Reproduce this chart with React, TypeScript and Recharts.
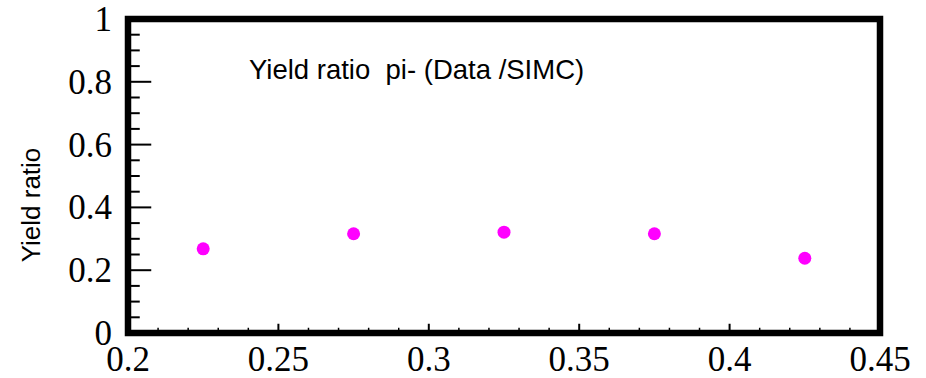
import React from 'react';
import { ScatterChart, Scatter, XAxis, YAxis, ReferenceArea } from 'recharts';

// Data
const xValues = [0.225, 0.275, 0.325, 0.375, 0.425];
const yieldRatios = [0.268, 0.316, 0.321, 0.316, 0.238];

// Tick positions and labels
const xTicks = [0.2, 0.21, 0.22, 0.23, 0.24, 0.25, 0.26, 0.27, 0.28, 0.29, 0.3, 0.31, 0.32, 0.33, 0.34, 0.35, 0.36, 0.37, 0.38, 0.39, 0.4, 0.41, 0.42, 0.43, 0.44, 0.45];
const xMajorTicks = [0.2, 0.25, 0.3, 0.35, 0.4, 0.45];
const xMajorLabels = ['0.2', '0.25', '0.3', '0.35', '0.4', '0.45'];
const yTicks = [0, 0.05, 0.1, 0.15, 0.2, 0.25, 0.3, 0.35, 0.4, 0.45, 0.5, 0.55, 0.6, 0.65, 0.7, 0.75, 0.8, 0.85, 0.9, 0.95, 1];
const yMajorTicks = [0, 0.2, 0.4, 0.6, 0.8, 1];
const yMajorLabels = ['0', '0.2', '0.4', '0.6', '0.8', '1'];

const title = 'Yield ratio  pi- (Data /SIMC)';
const yAxisTitle = 'Yield ratio';

const data = xValues.map((x, i) => ({ x, y: yieldRatios[i] }));

const majorIndex = (list: number[], v: number) => list.findIndex((m) => Math.abs(m - v) < 1e-9);

const SERIF = '"Liberation Serif", "Times New Roman", serif';
const SANS = '"Liberation Sans", Arial, sans-serif';
const FRAME = 6.5;

const BottomTick = (props: any) => {
  const { x, y, payload } = props;
  const idx = majorIndex(xMajorTicks, payload.value);
  const major = idx >= 0;
  return (
    <g>
      <line x1={x} x2={x} y1={y} y2={y - (major ? FRAME / 2 + 6 : FRAME / 2 + 2)} stroke="#000" strokeWidth={major ? 2 : 1.5} />
      {major && (
        <text x={x} y={y + 38} textAnchor="middle" fontFamily={SERIF} fontSize={35} fill="#000">
          {xMajorLabels[idx]}
        </text>
      )}
    </g>
  );
};

const TopTick = (props: any) => {
  const { x, y, payload } = props;
  const major = majorIndex(xMajorTicks, payload.value) >= 0;
  return (
    <line x1={x} x2={x} y1={y} y2={y + (major ? FRAME / 2 + 6 : FRAME / 2 + 2)} stroke="#000" strokeWidth={major ? 2 : 1.5} />
  );
};

const LeftTick = (props: any) => {
  const { x, y, payload } = props;
  const idx = majorIndex(yMajorTicks, payload.value);
  const major = idx >= 0;
  return (
    <g>
      <line x1={x} x2={x + (major ? FRAME / 2 + 20 : FRAME / 2 + 8.5)} y1={y} y2={y} stroke="#000" strokeWidth={2} />
      {major && (
        <text x={112} y={y + 12} textAnchor="end" fontFamily={SERIF} fontSize={35} fill="#000">
          {yMajorLabels[idx]}
        </text>
      )}
    </g>
  );
};

const RightTick = (props: any) => {
  const { x, y, payload } = props;
  const major = majorIndex(yMajorTicks, payload.value) >= 0;
  return (
    <line x1={x} x2={x - (major ? FRAME / 2 + 20 : FRAME / 2 + 8.5)} y1={y} y2={y} stroke="#000" strokeWidth={2} />
  );
};

const Dot = (props: any) => {
  const { cx, cy } = props;
  return <circle cx={cx} cy={cy} r={6.5} fill="#ff00ff" />;
};

export default function App() {
  return (
    <div style={{ position: 'absolute', left: 0, top: 0, width: 926, height: 378, background: '#fff' }}>
      <ScatterChart width={926} height={378} margin={{ top: 0, right: 0, bottom: 0, left: 0 }}>
        <XAxis
          xAxisId="bottom"
          dataKey="x"
          type="number"
          domain={[0.2, 0.45]}
          ticks={xTicks}
          interval={0}
          orientation="bottom"
          height={45}
          tickSize={0}
          tickMargin={0}
          tickLine={false}
          axisLine={false}
          tick={<BottomTick />}
        />
        <XAxis
          xAxisId="top"
          type="number"
          domain={[0.2, 0.45]}
          ticks={xTicks}
          interval={0}
          orientation="top"
          height={19}
          tickSize={0}
          tickMargin={0}
          tickLine={false}
          axisLine={false}
          tick={<TopTick />}
        />
        <YAxis
          yAxisId="left"
          dataKey="y"
          type="number"
          domain={[0, 1]}
          ticks={yTicks}
          interval={0}
          orientation="left"
          width={128}
          tickSize={0}
          tickMargin={0}
          tickLine={false}
          axisLine={false}
          tick={<LeftTick />}
        />
        <YAxis
          yAxisId="right"
          type="number"
          domain={[0, 1]}
          ticks={yTicks}
          interval={0}
          orientation="right"
          width={46}
          tickSize={0}
          tickMargin={0}
          tickLine={false}
          axisLine={false}
          tick={<RightTick />}
        />
        <ReferenceArea
          xAxisId="bottom"
          yAxisId="left"
          x1={0.2}
          x2={0.45}
          y1={0}
          y2={1}
          fill="none"
          fillOpacity={0}
          stroke="#000"
          strokeWidth={FRAME}
          strokeOpacity={1}
        />
        <Scatter
          xAxisId="bottom"
          yAxisId="left"
          data={data}
          shape={<Dot />}
          isAnimationActive={false}
        />
      </ScatterChart>
      <svg width={926} height={378} style={{ position: 'absolute', left: 0, top: 0, pointerEvents: 'none' }}>
        <text x={249} y={79} fontFamily={SANS} fontSize={27.5} fill="#000" style={{ whiteSpace: 'pre' }}>
          {title}
        </text>
        <text x={40} y={205} transform="rotate(-90 40 205)" textAnchor="middle" fontFamily={SANS} fontSize={26} fill="#000">
          {yAxisTitle}
        </text>
      </svg>
    </div>
  );
}
